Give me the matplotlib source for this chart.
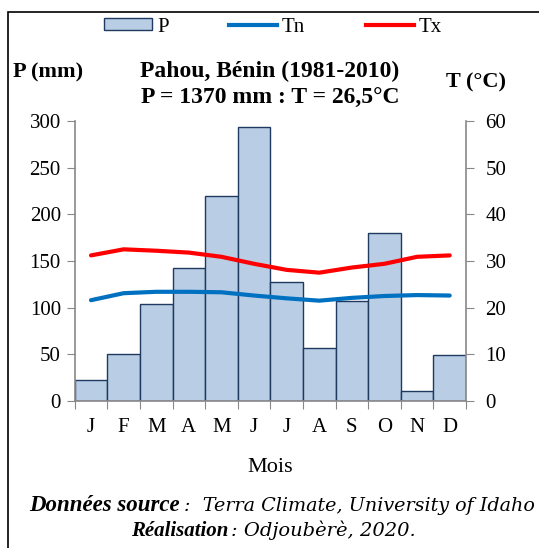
import matplotlib
matplotlib.use("Agg")
import matplotlib.pyplot as plt
from matplotlib.patches import Rectangle
from matplotlib.lines import Line2D
from matplotlib.patches import Patch

months = ["J", "F", "M", "A", "M", "J", "J", "A", "S", "O", "N", "D"]
P = [23, 50, 104, 143, 220, 294, 127, 57, 107, 180, 11, 49]
Tn = [21.6, 23.1, 23.4, 23.4, 23.3, 22.6, 22.0, 21.5, 22.1, 22.5, 22.7, 22.6]
Tx = [31.2, 32.5, 32.2, 31.8, 30.9, 29.4, 28.1, 27.5, 28.6, 29.4, 30.9, 31.2]
p_ticks = [0, 50, 100, 150, 200, 250, 300]
t_ticks = [0, 10, 20, 30, 40, 50, 60]

plt.rcParams['font.family'] = ['Liberation Serif', 'DejaVu Serif']

W, H = 539, 548
fig = plt.figure(figsize=(W / 100, H / 100), dpi=100)

# outer frame
fig.patches.append(Rectangle((8 / W, -0.05), 1.2, 1 - 12 / H + 0.05, transform=fig.transFigure,
                             fill=False, edgecolor='black', linewidth=1.2))

ax = fig.add_axes([74.7 / W, 1 - 401 / H, (466 - 74.7) / W, (401 - 121) / H])
x = list(range(len(months)))
ax.bar(x, P, width=1.0, color='#B9CDE5', edgecolor='#1F3A60', linewidth=1.0, zorder=2)
ax.set_xlim(-0.5, 11.5)
ax.set_ylim(0, 300)
ax.set_yticks(p_ticks)
ax.set_xticks([i + 0.5 for i in range(-1, 12)], minor=False)
ax.set_xticklabels([])
ax.set_xticks(x, minor=True)
ax.set_xticklabels(months, minor=True)
ax.tick_params(axis='x', which='major', length=6, color='#888888', direction='out')
ax.tick_params(axis='x', which='minor', length=0, pad=12, labelsize=15)
ax.tick_params(axis='y', length=6, color='#888888', labelsize=15, pad=4)
for s in ['top', 'right']:
    ax.spines[s].set_visible(False)
ax.spines['left'].set_color('#888888')
ax.spines['bottom'].set_color('#888888')
ax.spines['left'].set_linewidth(1.2)
ax.spines['bottom'].set_linewidth(1.2)

ax2 = ax.twinx()
ax2.plot(x, Tn, color='#0070C0', linewidth=3, solid_capstyle='round', zorder=3)
ax2.plot(x, Tx, color='#FF0000', linewidth=3, solid_capstyle='round', zorder=3)
ax2.set_ylim(0, 60)
ax2.set_yticks(t_ticks)
ax2.tick_params(axis='y', length=6, color='#888888', labelsize=15, pad=8)
for s in ['top', 'left', 'bottom']:
    ax2.spines[s].set_visible(False)
ax2.spines['right'].set_color('#888888')
ax2.spines['right'].set_linewidth(1.2)

# legend
handles = [Patch(facecolor='#B9CDE5', edgecolor='#1F3A60', linewidth=1.0),
           Line2D([], [], color='#0070C0', linewidth=3),
           Line2D([], [], color='#FF0000', linewidth=3)]
fig.legend(handles, ['P', 'Tn', 'Tx'], loc='center', bbox_to_anchor=(273 / W, 1 - 27 / H),
           ncol=3, frameon=False, fontsize=15, handlelength=2.3, handletextpad=0.25,
           columnspacing=2.9, handleheight=0.5)

fig.text(270 / W, 1 - 71 / H, "Pahou, Bénin (1981-2010)", ha='center', va='center',
         fontsize=17, fontweight='bold')
fig.text(270 / W, 1 - 98 / H, "P = 1370 mm : T = 26,5°C", ha='center', va='center',
         fontsize=17, fontweight='bold')
fig.text(48.5 / W, 1 - 72 / H, "P (mm)", ha='center', va='center', fontsize=16, fontweight='bold')
fig.text(476 / W, 1 - 82 / H, "T (°C)", ha='center', va='center', fontsize=16, fontweight='bold')

fig.text(270 / W, 1 - 468 / H, "Mois", ha='center', va='center', fontsize=16)

fig.text(180 / W, 1 - 511 / H, "Données source", ha='right', va='baseline', fontsize=16.5,
         fontweight='bold', fontstyle='italic')
fig.text(184 / W, 1 - 511 / H, ":  Terra Climate, University of Idaho", ha='left', va='baseline',
         fontsize=13.8, fontstyle='italic', family=['DejaVu Serif'])
fig.text(228 / W, 1 - 536 / H, "Réalisation", ha='right', va='baseline', fontsize=15,
         fontweight='bold', fontstyle='italic')
fig.text(231 / W, 1 - 536 / H, ": Odjoubèrè, 2020.", ha='left', va='baseline',
         fontsize=14, fontstyle='italic', family=['DejaVu Serif'])

fig.savefig("out.png", dpi=100)
